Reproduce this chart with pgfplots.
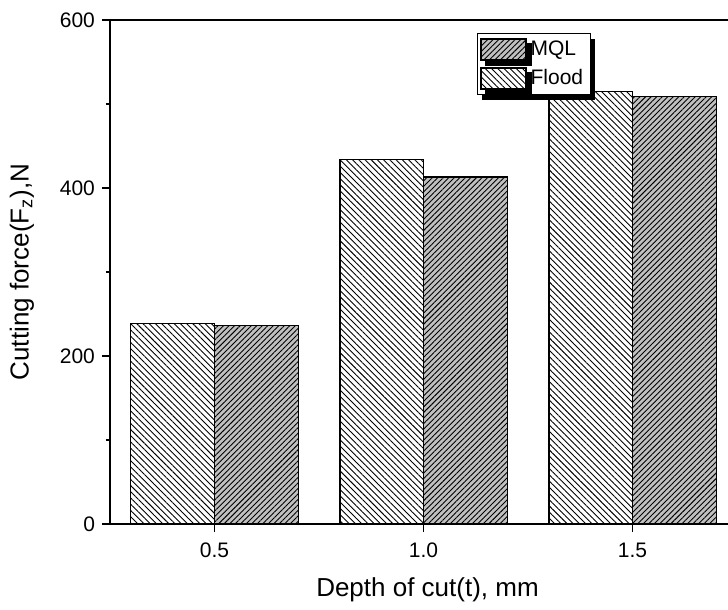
\documentclass[border=0pt]{standalone}
\usepackage{pgfplots}
\pgfplotsset{compat=1.18}
\usepackage{fontspec}
\setmainfont{Liberation Sans}
\usetikzlibrary{patterns.meta,shadows}
\definecolor{mqlgray}{RGB}{192,192,192}
\begin{document}
\begin{tikzpicture}
\begin{axis}[name=ax, width=313.5pt, height=252pt, scale only axis,
 xmin=0.25, xmax=1.75, ymin=0, ymax=600,
 ytick={0,200,400,600}, minor ytick={100,300,500},
 xtick={0.5,1,1.5}, xticklabels={0.5,1.0,1.5},
 tick align=outside, xtick pos=bottom, ytick pos=left,
 major tick length=4pt, minor tick length=2pt,
 axis line style={line width=0.75pt},
 every tick/.style={black, line width=0.75pt},
 tick label style={font=\fontsize{10.5}{12}\selectfont},
 xticklabel style={yshift=-2pt},
 /pgf/number format/assume math mode=true,
 xlabel={Depth of cut(t), mm},
 ylabel={Cutting force(F\textsubscript{z}),N},
 label style={font=\fontsize{13}{15}\selectfont},
 xlabel style={at={(axis description cs:0.5,0)}, anchor=center, yshift=-33pt, xshift=2pt},
 ylabel style={at={(axis description cs:0,0.5)}, anchor=center, yshift=44pt},
 ybar, bar width=0.2, bar shift=0pt,
 legend cell align=left,
 legend image code/.code={\path[#1] (0pt,-5.25pt) rectangle (22.5pt,5.25pt);},
 legend style={at={(0.585,0.974)}, anchor=north west, draw=black, line width=0.6pt,
   fill=white, general shadow={fill=black, shadow xshift=2.5pt, shadow yshift=-2.5pt},
   font=\fontsize{10.5}{12}\selectfont, inner sep=1.5pt, row sep=1.5pt},
]
\addplot[fill=mqlgray, draw=black, line width=0.6pt,
  postaction={pattern={Lines[angle=45,distance=1.95pt,line width=0.45pt]}}]
  coordinates {(0.6,236) (1.1,413) (1.6,509)};
\addlegendentry{MQL}
\addplot[fill=white, draw=black, line width=0.6pt,
  postaction={pattern={Lines[angle=-45,distance=2.2pt,line width=0.45pt]}}]
  coordinates {(0.4,239) (0.9,434) (1.4,515)};
\addlegendentry{Flood}
\end{axis}
\pgfresetboundingbox
\path[use as bounding box] ([shift={(-55pt,-43pt)}]ax.south west) rectangle ([shift={(-4.5pt,10pt)}]ax.north east);
\end{tikzpicture}
\end{document}
